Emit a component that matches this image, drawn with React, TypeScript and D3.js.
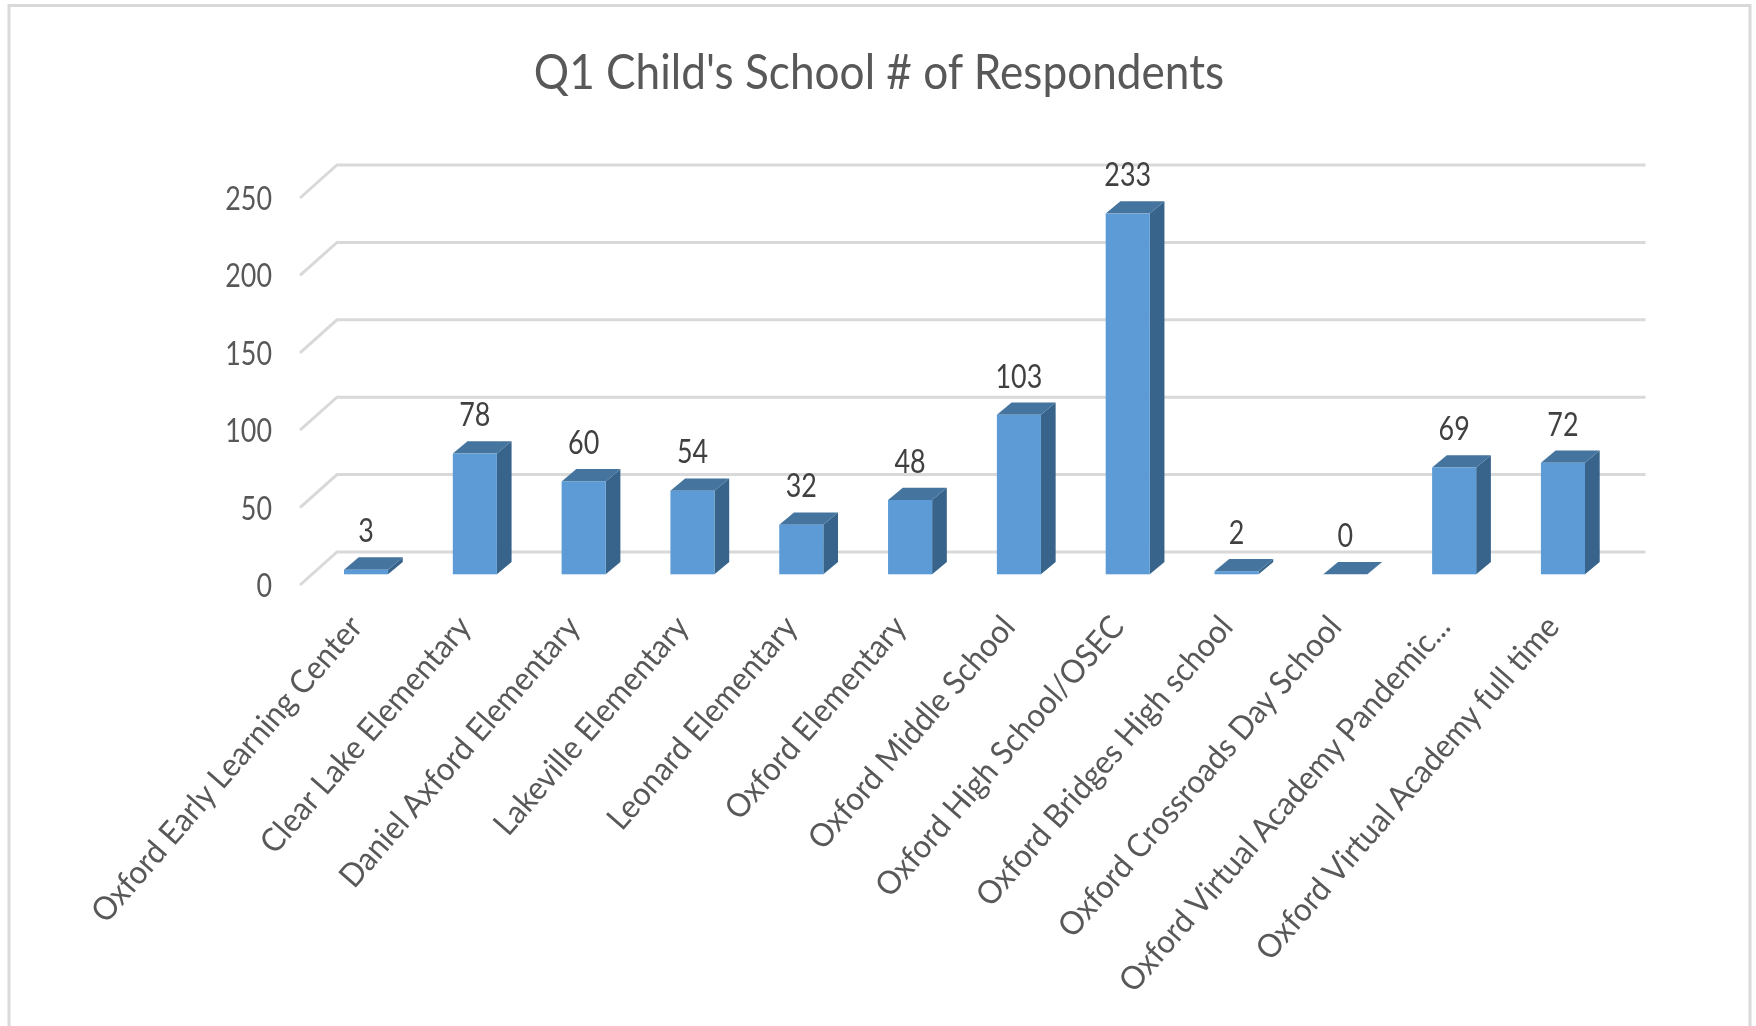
import React from "react";
import * as d3 from "d3";

const titleText = "Q1 Child's School # of Respondents";
const schools = [
  "Oxford Early Learning Center",
  "Clear Lake Elementary",
  "Daniel Axford Elementary",
  "Lakeville Elementary",
  "Leonard Elementary",
  "Oxford Elementary",
  "Oxford Middle School",
  "Oxford High School/OSEC",
  "Oxford Bridges High school",
  "Oxford Crossroads Day School",
  "Oxford Virtual Academy Pandemic...",
  "Oxford Virtual Academy full time",
];
const respondents = [3, 78, 60, 54, 32, 48, 103, 233, 2, 0, 69, 72];
const yTicks = [0, 50, 100, 150, 200, 250];

const W = 1756;
const H = 1026;
const FONT = "Lato, 'Open Sans', sans-serif";
const GRID = "#d9d9d9";
const FRONT = "#5b9bd5";
const TOP = "#44749f";
const SIDE = "#37648a";

const x = d3.scaleBand<string>().domain(schools).range([344, 1585]).paddingInner(0.595);
const y = d3.scaleLinear().domain([0, 250]).range([574.3, 187.3]);
const depthX = 14.7;
const depthY = 12.3;
const wallDx = 37;
const wallBack = -22.3;
const wallFront = 10.7;
const gridRight = 1645.5;

function Label({ x: px, y: py, size, color, anchor = "middle", sx = 0.88, rot = 0, children }: any) {
  return (
    <text
      transform={`translate(${px},${py}) rotate(${rot}) scale(${sx},1)`}
      fontFamily={FONT}
      fontSize={size}
      fill={color}
      textAnchor={anchor}
    >
      {children}
    </text>
  );
}

export default function App() {
  const line = d3.line();
  const poly = (pts: [number, number][]) => line(pts) + "Z";
  const bw = x.bandwidth();
  return (
    <svg
      width={W}
      height={H}
      viewBox={`0 0 ${W} ${H}`}
      style={{ position: "absolute", left: 0, top: 0, display: "block", background: "#fff" }}
    >
      <defs>
        <filter id="soft" x="0" y="0" width="100%" height="100%" filterUnits="userSpaceOnUse" primitiveUnits="userSpaceOnUse">
          <feGaussianBlur stdDeviation="0.6" />
        </filter>
      </defs>
      <g filter="url(#soft)">
        <rect x={0} y={0} width={W} height={H} fill="#fff" />
        <rect x={9} y={5.5} width={1741} height={H + 40} fill="#fff" stroke={GRID} strokeWidth={3} />
        <Label x={879} y={89} size={48} color="#595959" sx={0.92}>{titleText}</Label>

        {yTicks.map((t) => {
          const yy = y(t);
          const pts: [number, number][] = [
            [300, yy + wallFront],
            [300 + wallDx, yy + wallBack],
            [gridRight, yy + wallBack],
          ];
          return (
            <g key={t}>
              <path d={line(pts) as string} fill="none" stroke={GRID} strokeWidth={3} />
              <Label x={272} y={yy + wallFront + 12} size={32} color="#595959" anchor="end" sx={0.84}>{t}</Label>
            </g>
          );
        })}

        {schools.map((s, i) => {
          const v = respondents[i];
          const x0 = x(s) as number;
          const x1 = x0 + bw;
          const y0 = y(0);
          const yt = y(v);
          return (
            <g key={s}>
              <path d={poly([[x1, yt], [x1 + depthX, yt - depthY], [x1 + depthX, y0 - depthY], [x1, y0]])} fill={SIDE} />
              <path d={poly([[x0, yt], [x0 + depthX, yt - depthY], [x1 + depthX, yt - depthY], [x1, yt]])} fill={TOP} />
              <rect x={x0} y={yt} width={bw} height={y0 - yt} fill={FRONT} />
              <Label x={x0 + bw / 2} y={yt - depthY - 15} size={32} color="#404040" sx={0.84}>{v}</Label>
              <Label x={x0 + 20} y={628} size={32.5} color="#595959" anchor="end" sx={0.95} rot={-49}>{s}</Label>
            </g>
          );
        })}
      </g>
    </svg>
  );
}
